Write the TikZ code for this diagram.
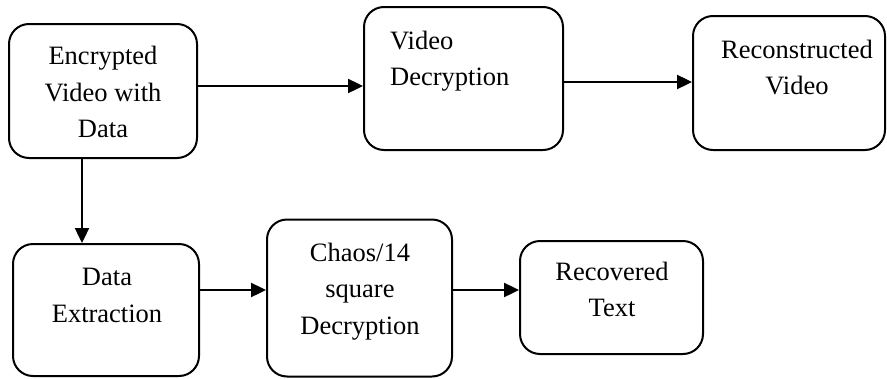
\documentclass[tikz,border=0pt]{standalone}
\usepackage{fontspec}
\setmainfont{Liberation Serif}
\usetikzlibrary{arrows.meta}
\begin{document}
\begin{tikzpicture}[x=1pt,y=-1pt,
  box/.style={draw,line width=2pt,rounded corners=20pt,inner sep=0pt},
  txt/.style={font=\fontsize{26.5}{36.5}\selectfont,inner sep=0pt,align=center},
  arr/.style={line width=2.4pt,-{Triangle[length=15pt,width=14pt]}}]
\useasboundingbox (0,0) rectangle (887,378);
\node[box,minimum width=188pt,minimum height=134pt] (b1) at (103,91) {};
\node[box,minimum width=199pt,minimum height=143pt] (b2) at (463.5,78.5) {};
\node[box,minimum width=192pt,minimum height=134pt] (b3) at (789,83) {};
\node[box,minimum width=186pt,minimum height=132pt] (b4) at (106,310) {};
\node[box,minimum width=185pt,minimum height=157pt] (b5) at (359.5,298) {};
\node[box,minimum width=183pt,minimum height=113pt] (b6) at (611.5,297.5) {};
\node[txt] (t1) at (103,92) {Encrypted\\Video with\\Data};
\node[txt,align=left,anchor=west] (t2) at (390,61) {Video\\Decryption};
\node[txt] (t3) at (797,67.5) {Reconstructed\\Video};
\node[txt] (t4) at (107,295.5) {Data\\Extraction};
\node[txt] (t5) at (360,291.5) {Chaos/14\\square\\Decryption};
\node[txt] (t6) at (612,289.5) {Recovered\\Text};
\draw[arr] (b1.east |- 0,86) -- (b2.west |- 0,86);
\draw[arr] (b2.east |- 0,82) -- (b3.west |- 0,82);
\draw[arr] (b1.south -| 82,0) -- (b4.north -| 82,0);
\draw[arr] (b4.east |- 0,290) -- (b5.west |- 0,290);
\draw[arr] (b5.east |- 0,290) -- (b6.west |- 0,290);
\end{tikzpicture}
\end{document}
